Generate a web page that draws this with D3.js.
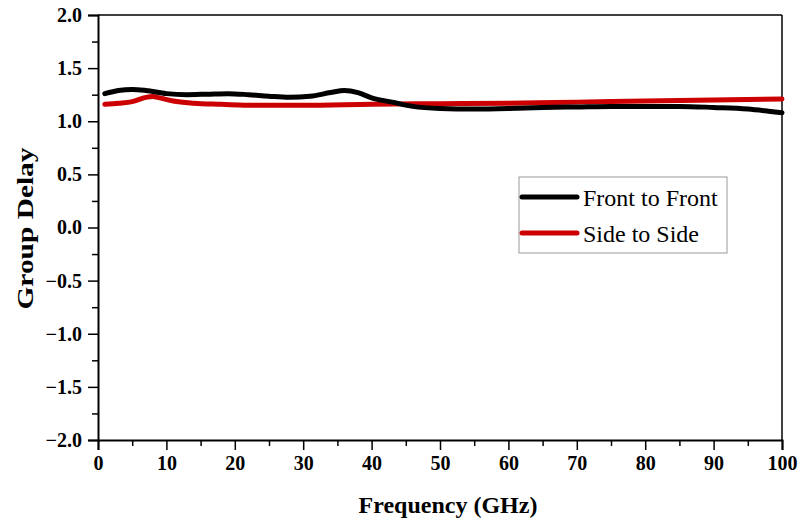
<!DOCTYPE html>
<html>
<head>
<meta charset="utf-8">
<script src="https://cdn.jsdelivr.net/npm/d3@7"></script>
<style>
  html, body { margin: 0; padding: 0; background: #fff; }
  svg { display: block; }
  text { font-family: "Liberation Serif", "Times New Roman", serif; fill: #000; }
</style>
</head>
<body>
<svg id="chart" width="800" height="524"></svg>
<script>
// Frequency (GHz) sample points and group delay for each antenna orientation
const freqFront = [1, 3, 5, 7, 10, 13, 16, 19, 22, 25, 28, 31, 34, 36, 38, 40, 43, 46, 50, 55, 60, 65, 70, 75, 80, 85, 90, 95, 98, 100];
const delayFront = [1.26, 1.29, 1.30, 1.29, 1.26, 1.25, 1.255, 1.26, 1.25, 1.235, 1.225, 1.235, 1.27, 1.29, 1.27, 1.22, 1.18, 1.14, 1.12, 1.115, 1.12, 1.13, 1.135, 1.14, 1.14, 1.14, 1.13, 1.115, 1.095, 1.08];

const freqSide = [1, 3, 5, 7, 8, 9, 11, 14, 18, 23, 30, 40, 50, 60, 70, 80, 90, 100];
const delaySide = [1.16, 1.17, 1.185, 1.225, 1.232, 1.22, 1.19, 1.17, 1.16, 1.15, 1.15, 1.16, 1.165, 1.17, 1.18, 1.19, 1.20, 1.21];

const xTicks = [0, 10, 20, 30, 40, 50, 60, 70, 80, 90, 100];
const yTicks = [-2.0, -1.5, -1.0, -0.5, 0.0, 0.5, 1.0, 1.5, 2.0];
const seriesNames = ["Front to Front", "Side to Side"];
const seriesColors = ["#000000", "#cc0000"];

const svg = d3.select("#chart");
const plotLeft = 98, plotRight = 782, plotTop = 15, plotBottom = 440;

const x = d3.scaleLinear().domain([0, 100]).range([plotLeft, plotRight]);
const y = d3.scaleLinear().domain([-2, 2]).range([plotBottom, plotTop]);

// Frame: top and right borders
svg.append("line").attr("x1", plotLeft).attr("x2", plotRight).attr("y1", plotTop).attr("y2", plotTop)
  .attr("stroke", "#000").attr("stroke-width", 1.5);
svg.append("line").attr("x1", plotRight).attr("x2", plotRight).attr("y1", plotTop).attr("y2", plotBottom)
  .attr("stroke", "#000").attr("stroke-width", 1.5);

// Bottom axis with major and minor ticks
const xMinor = d3.range(5, 100, 10);
svg.append("g").attr("transform", `translate(0,${plotBottom})`)
  .call(d3.axisBottom(x).tickValues(xMinor).tickSize(6).tickFormat(""))
  .call(g => g.select(".domain").remove());
const xAxis = svg.append("g").attr("transform", `translate(0,${plotBottom})`)
  .call(d3.axisBottom(x).tickValues(xTicks).tickSize(10).tickPadding(6).tickFormat(d3.format("d")));
xAxis.selectAll("text").style("font-size", "20px").style("font-weight", "bold")
  .style("font-family", "'Liberation Serif', serif");

// Left axis with major and minor ticks
const yMinor = d3.range(-1.75, 2, 0.5);
svg.append("g").attr("transform", `translate(${plotLeft},0)`)
  .call(d3.axisLeft(y).tickValues(yMinor).tickSize(6).tickFormat(""))
  .call(g => g.select(".domain").remove());
const yAxis = svg.append("g").attr("transform", `translate(${plotLeft},0)`)
  .call(d3.axisLeft(y).tickValues(yTicks).tickSize(10).tickPadding(6)
    .tickFormat(d => d3.format(".1f")(d).replace("-", "\u2212")));
yAxis.selectAll("text").style("font-size", "20px").style("font-weight", "bold")
  .style("font-family", "'Liberation Serif', serif");

svg.selectAll(".domain").attr("stroke-width", 2);
svg.selectAll(".tick line").attr("stroke-width", 1.5);

// Curves
const line = d3.line().x(d => x(d[0])).y(d => y(d[1])).curve(d3.curveMonotoneX);
const seriesData = [
  d3.zip(freqFront, delayFront),
  d3.zip(freqSide, delaySide)
];
// Draw side-to-side first so the front-to-front trace sits above it where they overlap
[1, 0].forEach(i => {
  svg.append("path").datum(seriesData[i])
    .attr("d", line)
    .attr("fill", "none")
    .attr("stroke", seriesColors[i])
    .attr("stroke-width", 5)
    .attr("stroke-linecap", "round")
    .attr("stroke-linejoin", "round");
});

// Legend
const lg = svg.append("g");
lg.append("rect").attr("x", 519).attr("y", 177).attr("width", 208).attr("height", 76)
  .attr("fill", "#fff").attr("stroke", "#999").attr("stroke-width", 1);
seriesNames.forEach((name, i) => {
  const ly = 197 + i * 36;
  lg.append("line").attr("x1", 522).attr("x2", 577).attr("y1", ly).attr("y2", ly)
    .attr("stroke", seriesColors[i]).attr("stroke-width", 5).attr("stroke-linecap", "round");
  lg.append("text").attr("x", 583).attr("y", ly + 9).text(name)
    .style("font-size", "24px");
});

// Axis titles
svg.append("text").attr("x", (plotLeft + plotRight) / 2 + 8).attr("y", 513)
  .attr("text-anchor", "middle").style("font-size", "24px").style("font-weight", "bold")
  .text("Frequency (GHz)");
svg.append("text")
  .attr("transform", `translate(33,${(plotTop + plotBottom) / 2 + 1}) rotate(-90)`)
  .attr("text-anchor", "middle").style("font-size", "24px").style("font-weight", "bold")
  .attr("textLength", 162).attr("lengthAdjust", "spacingAndGlyphs")
  .text("Group Delay");
</script>
</body>
</html>
